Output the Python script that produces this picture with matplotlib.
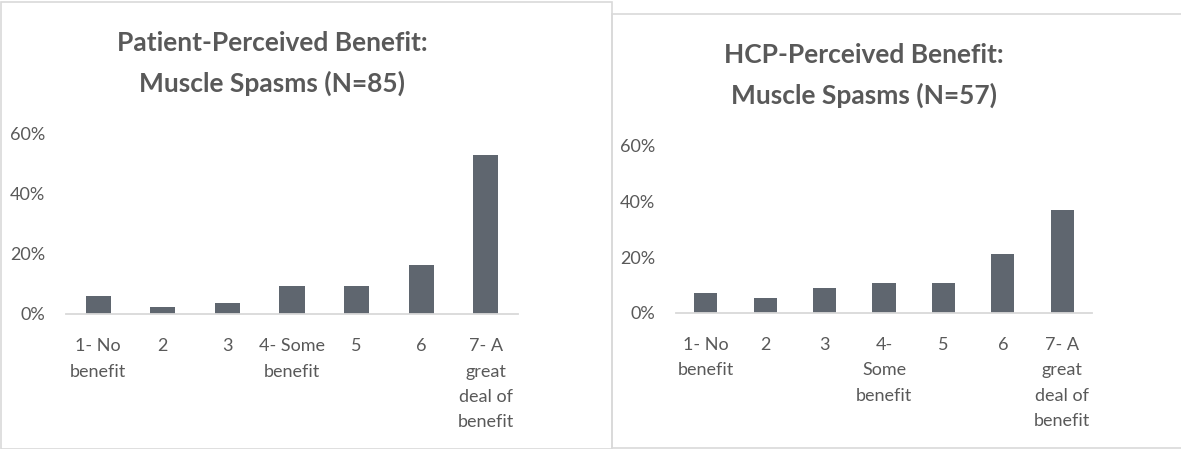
import matplotlib.pyplot as plt
from matplotlib.patches import Rectangle
from matplotlib.ticker import PercentFormatter

# Survey counts per rating (1-7), muscle spasms
patient_counts = [5, 2, 3, 8, 8, 14, 45]
hcp_counts = [4, 3, 5, 6, 6, 12, 21]
patient_n = 85
hcp_n = 57

patient_labels = ['1- No\nbenefit', '2', '3', '4- Some\nbenefit', '5', '6',
                  '7- A\ngreat\ndeal of\nbenefit']
hcp_labels = ['1- No\nbenefit', '2', '3', '4-\nSome\nbenefit', '5', '6',
              '7- A\ngreat\ndeal of\nbenefit']

patient_title = 'Patient-Perceived Benefit:\nMuscle Spasms (N=85)'
hcp_title = 'HCP-Perceived Benefit:\nMuscle Spasms (N=57)'

yticks = [0, 0.2, 0.4, 0.6]

BAR = '#5f666f'
TXT = '#595959'
GRID = '#d9d9d9'
W, H = 1181, 449

plt.rcParams['font.family'] = ['Lato', 'DejaVu Sans']

fig = plt.figure(figsize=(W / 100, H / 100), dpi=100)


def px_axes(x0, y_base, x1, y_top):
    return fig.add_axes([x0 / W, (H - y_base) / H, (x1 - x0) / W, (y_base - y_top) / H])


def draw_panel(ax, counts, n, labels):
    vals = [c / n for c in counts]
    x = range(len(vals))
    ax.bar(x, vals, width=0.39, color=BAR, zorder=2)
    ax.set_xlim(-0.5, len(vals) - 0.5)
    ax.set_ylim(0, 0.6)
    ax.set_yticks(yticks)
    ax.yaxis.set_major_formatter(PercentFormatter(1.0, decimals=0))
    ax.set_xticks(list(x))
    ax.set_xticklabels(labels, linespacing=1.72, va='top')
    for s in ['top', 'right', 'left']:
        ax.spines[s].set_visible(False)
    ax.spines['bottom'].set_color(GRID)
    ax.spines['bottom'].set_linewidth(1.3)
    ax.tick_params(axis='both', length=0, colors=TXT, labelsize=13)
    ax.tick_params(axis='x', pad=17.5)
    ax.tick_params(axis='y', pad=15)


ax1 = px_axes(66, 314, 518, 134)
draw_panel(ax1, patient_counts, patient_n, patient_labels)
ax2 = px_axes(676, 312.7, 1092, 145.7)
draw_panel(ax2, hcp_counts, hcp_n, hcp_labels)

fig.text(272 / W, 1 - 63.5 / H, patient_title, ha='center', va='center',
         fontsize=19, fontweight='bold', color=TXT, linespacing=1.75)
fig.text(864 / W, 1 - 75.5 / H, hcp_title, ha='center', va='center',
         fontsize=19, fontweight='bold', color=TXT, linespacing=1.75)

# chart frames
fig.patches.append(Rectangle((0.5 / W, 0), (612 - 0.5) / W, 1 - 2 / H,
                             transform=fig.transFigure, fill=False,
                             edgecolor=GRID, linewidth=1.2))
fig.patches.append(Rectangle((612 / W, 1 - 447.5 / H), (W + 10 - 612) / W, (447.5 - 14) / H,
                             transform=fig.transFigure, facecolor='white',
                             edgecolor=GRID, linewidth=1.2, zorder=-1))

fig.savefig('out.png', dpi=100)
